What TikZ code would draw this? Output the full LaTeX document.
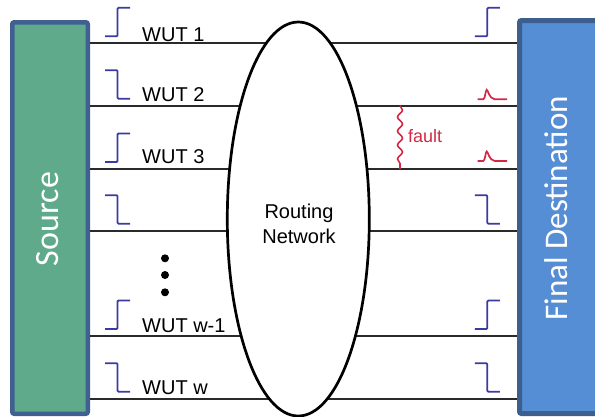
\documentclass[tikz,border=0pt]{standalone}
\usepackage{fontspec}
\newfontfamily\arialf{Liberation Sans}
\newfontfamily\calf{Carlito}
\usetikzlibrary{decorations.pathmorphing,shapes.geometric}
\definecolor{srcgreen}{HTML}{5FAA8A}
\definecolor{srcborder}{HTML}{3F6090}
\definecolor{dstblue}{HTML}{558ED5}
\definecolor{dstborder}{HTML}{3C5F8E}
\definecolor{sigblue}{HTML}{3A3AA0}
\definecolor{faultred}{HTML}{D32745}
\definecolor{wire}{HTML}{2A2A2A}
\tikzset{
  wireline/.style={draw=wire, line width=1.9pt},
  sig/.style={draw=sigblue, line width=1.8pt, rounded corners=1pt},
  pulseline/.style={draw=faultred, line width=1.7pt},
  wutlabel/.style={font=\arialf\fontsize{20}{24}\selectfont, anchor=base west, inner sep=0pt, text=black},
  bigvert/.style={font=\calf\fontsize{34}{40}\selectfont, text=white, rotate=90, anchor=base, inner sep=0pt},
  stepup/.pic={\draw[sig] (-12.5,-7) -- (0,-7) -- (0,-35.5) -- (12.5,-35.5);},
  stepdown/.pic={\draw[sig] (-12.5,-35.5) -- (0,-35.5) -- (0,-7) -- (12.5,-7);},
  spike/.pic={\draw[pulseline] (-9,0) -- (-3.5,0) .. controls (-1.5,0) and (-1.2,-9.5) .. (0,-9.5) .. controls (1.5,-9.5) and (2,-1) .. (8,0) -- (20.5,0);},
}
\begin{document}
\begin{tikzpicture}[x=1pt,y=-1pt]
\useasboundingbox (0,0) rectangle (595,416);
\clip (0,0) rectangle (595,416);

% boxes
\node[draw=srcborder, fill=srcgreen, line width=4.5pt, rounded corners=2pt, inner sep=0pt,
      minimum width=75.5pt, minimum height=391.5pt] (src) at (50,218) {};
\node[draw=dstborder, fill=dstblue, line width=5pt, rounded corners=2pt, inner sep=0pt,
      minimum width=83pt, minimum height=393pt] (dst) at (561,217) {};
\node[bigvert] (srctext) at (58.5,219) {Source};
\node[bigvert, font=\calf\fontsize{33}{40}\selectfont] (dsttext) at (567,208.3) {Final Destination};

% wire end points
\foreach \i/\y in {1/43.3,2/105.7,3/169,4/230.7,5/336,6/398.7}{
  \coordinate (s\i) at (90,\y);
  \coordinate (d\i) at (517,\y);
}
\foreach \i in {1,...,6}{ \draw[wireline] (s\i) -- (d\i); }

% routing network
\node[ellipse, draw=black, line width=2.7pt, fill=white, inner sep=0pt,
      minimum width=142pt, minimum height=394pt] (net) at (298.3,219) {};
\node[font=\arialf\fontsize{20}{25}\selectfont, align=center, inner sep=0pt] (nettext) at (299,223.7) {Routing\\Network};

% labels
\node[wutlabel] (l1) at (142,41.7) {WUT 1};
\node[wutlabel] (l2) at (142,101.7) {WUT 2};
\node[wutlabel] (l3) at (142,163.3) {WUT 3};
\node[wutlabel] (l5) at (142,332.7) {WUT w-1};
\node[wutlabel] (l6) at (142,394.3) {WUT w};

% source side signals
\pic at (117.5,43.3) {stepup};
\pic at (117.5,105.7) {stepdown};
\pic at (117.5,169) {stepup};
\pic at (117.5,230.7) {stepdown};
\pic at (117.5,336) {stepup};
\pic at (117.5,398.7) {stepdown};

% destination side signals
\pic at (487.3,43.3) {stepup};
\pic at (486.7,99.3) {spike};
\pic at (486.7,161) {spike};
\pic at (487.3,230.7) {stepdown};
\pic at (487.3,336) {stepup};
\pic at (487.3,398.7) {stepdown};

% dots
\foreach \j/\y in {1/258.3,2/275,3/292.3}{
  \node[circle, fill=black, inner sep=0pt, minimum size=8pt] (dot\j) at (165,\y) {};
}

% fault
\coordinate (f1) at (400,105.7);
\coordinate (f2) at (400,169);
\draw[faultred, line width=1.6pt, decorate, decoration={snake, segment length=14pt, amplitude=2.5pt}] (f1) -- (f2);
\node[font=\arialf\fontsize{18}{22}\selectfont, text=faultred, anchor=base west, inner sep=0pt] (faultlabel) at (408,142.7) {fault};
\end{tikzpicture}
\end{document}
